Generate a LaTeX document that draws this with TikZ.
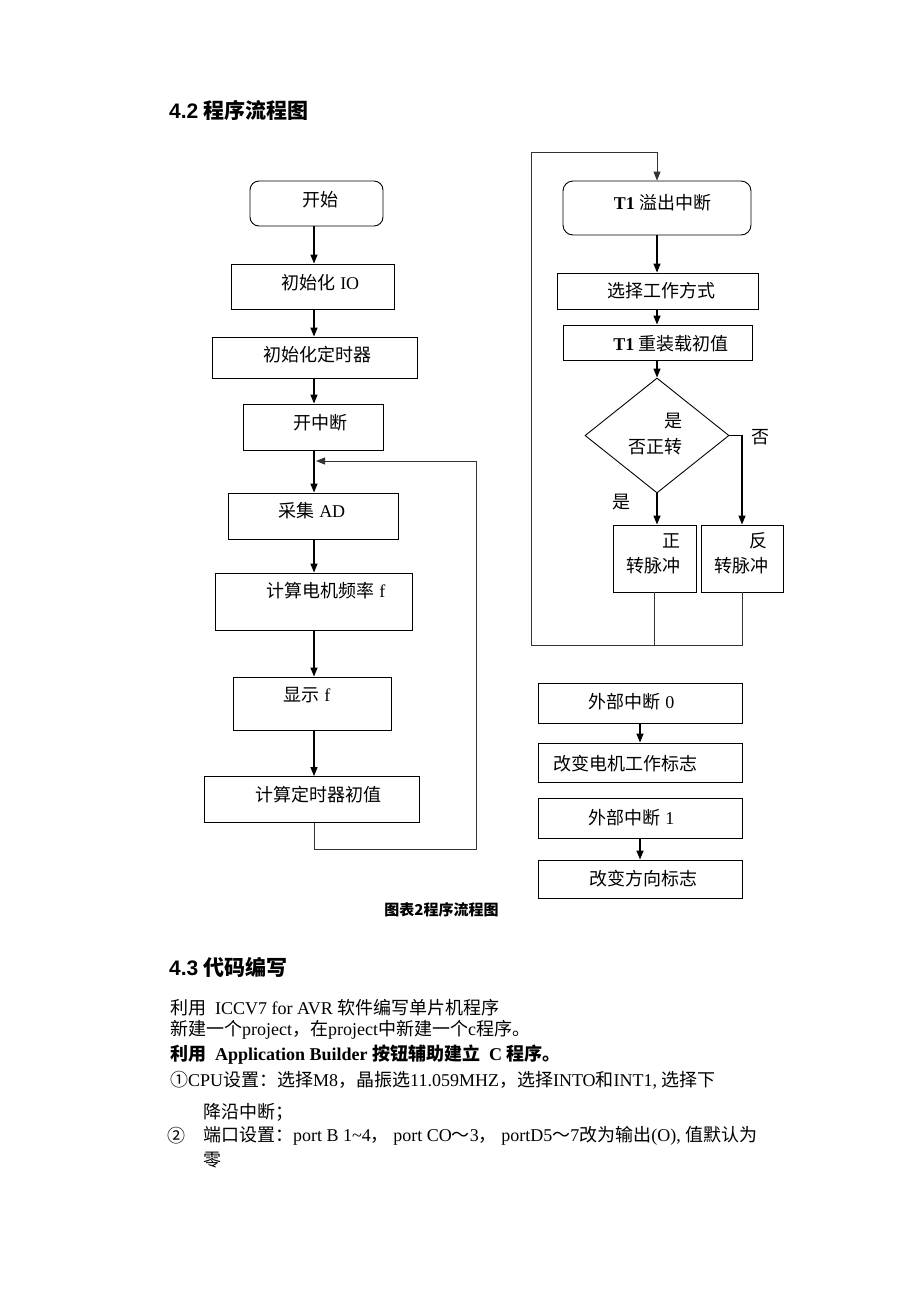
\documentclass[tikz,border=0pt]{standalone}
\usepackage{fontspec}
\setmainfont{Liberation Serif}
\newfontfamily\cjk{Noto Sans CJK SC}
\newfontfamily\hei{Liberation Sans}
\newcommand{\zh}[1]{{\cjk #1}}
\usetikzlibrary{arrows.meta,shapes.geometric}
\begin{document}
\begin{tikzpicture}[x=1pt,y=-1pt,
  box/.style={draw, line width=0.9pt, inner sep=0pt},
  rbox/.style={box, rounded corners=9pt},
  arr/.style={line width=1.3pt, -{Triangle[length=9pt,width=7pt]}},
  ln/.style={line width=1pt, draw=black!80},
  lnarr/.style={ln, -{Triangle[length=9pt,width=7pt]}},
  lbl/.style={font=\fontsize{18}{22}\selectfont, inner sep=0pt},
  body/.style={font=\fontsize{18}{22}\selectfont, inner sep=0pt, anchor=west},
  head/.style={font=\fontsize{21}{25}\selectfont\bfseries, inner sep=0pt, anchor=west},
  captxt/.style={font=\fontsize{15}{18}\selectfont\bfseries, inner sep=0pt}
]
\useasboundingbox[fill=white] (0,0) rectangle (920,1302);

% ---------- headings ----------
\node[head] (h42) at (169,110) {{\hei 4.2} \zh{程序流程图}};

% ---------- left flowchart ----------
\coordinate (ax) at (314,0);
\node[rbox, minimum width=133pt, minimum height=45pt] (start) at (316.5,203.5) {};
\node[lbl] (tstart) at (320,200) {\zh{开始}};
\node[box, minimum width=163pt, minimum height=45pt] (io) at (312.5,286.5) {};
\node[lbl] (tio) at (320.5,283) {\zh{初始化} IO};
\node[box, minimum width=205pt, minimum height=41pt] (tmr) at (314.5,357.5) {};
\node[lbl] (ttmr) at (317,355) {\zh{初始化定时器}};
\node[box, minimum width=140pt, minimum height=46pt] (kzd) at (313,427) {};
\node[lbl] (tkzd) at (320.5,423) {\zh{开中断}};
\node[box, minimum width=170pt, minimum height=46pt] (ad) at (313,516) {};
\node[lbl] (tad) at (312,511) {\zh{采集} AD};
\node[box, minimum width=197pt, minimum height=57pt] (freq) at (313.5,601.5) {};
\node[lbl] (tfreq) at (326,591) {\zh{计算电机频率} f};
\node[box, minimum width=158pt, minimum height=53pt] (show) at (312,703.5) {};
\node[lbl] (tshow) at (307,695) {\zh{显示} f};
\node[box, minimum width=215pt, minimum height=46pt] (calc) at (311.5,799.5) {};
\node[lbl] (tcalc) at (318,795) {\zh{计算定时器初值}};

\draw[arr] (start.south -| ax) -- (io.north -| ax);
\draw[arr] (io.south -| ax) -- (tmr.north -| ax);
\draw[arr] (tmr.south -| ax) -- (kzd.north -| ax);
\draw[arr] (kzd.south -| ax) -- (ad.north -| ax);
\draw[arr] (ad.south -| ax) -- (freq.north -| ax);
\draw[arr] (freq.south -| ax) -- (show.north -| ax);
\draw[arr] (show.south -| ax) -- (calc.north -| ax);

\coordinate (fbR) at (476,849);
\coordinate (merge) at (316,461);
\draw[lnarr] (calc.south -| ax) |- (fbR) |- (merge);

\node[captxt] (caption) at (441.5,909.5) {\zh{图表2程序流程图}};

% ---------- right flowchart ----------
\node[rbox, rounded corners=10pt, minimum width=188pt, minimum height=54pt] (t1) at (657,208) {};
\node[lbl] (tt1) at (662.5,202.5) {\textbf{T1} \zh{溢出中断}};
\node[box, minimum width=201pt, minimum height=36pt] (sel) at (657.5,291) {};
\node[lbl] (tsel) at (661.5,291) {\zh{选择工作方式}};
\node[box, minimum width=189pt, minimum height=35pt] (rel) at (657.5,342.5) {};
\node[lbl] (trel) at (671,344) {\textbf{T1} \zh{重装载初值}};
\node[draw, line width=0.9pt, diamond, inner sep=0pt, minimum width=144pt, minimum height=115pt] (dia) at (657,435.5) {};
\node[lbl] (tdia1) at (673.5,421.5) {\zh{是}};
\node[lbl] (tdia2) at (655,446.5) {\zh{否正转}};
\node[box, minimum width=83pt, minimum height=67pt] (pos) at (654.5,558.5) {};
\node[lbl] (tpos1) at (671.5,541) {\zh{正}};
\node[lbl] (tpos2) at (653,566) {\zh{转脉冲}};
\node[box, minimum width=82pt, minimum height=67pt] (neg) at (742,558.5) {};
\node[lbl] (tneg1) at (758.5,541) {\zh{反}};
\node[lbl] (tneg2) at (741.5,566) {\zh{转脉冲}};
\node[lbl] (tno) at (760,437) {\zh{否}};
\node[lbl] (tyes) at (621,502) {\zh{是}};

\draw[arr] (t1.south) -- (t1.south |- sel.north);
\draw[arr] (sel.south -| t1.south) -- (rel.north -| t1.south);
\draw[arr] (rel.south -| t1.south) -- (dia.north);
\draw[arr] (dia.east) -| (neg.north);
\draw[arr] (dia.south) -- (dia.south |- pos.north);

\coordinate (loopBL) at (531,645);
\coordinate (loopTL) at (531,152);
\draw[ln] (pos.south) -- (pos.south |- loopBL);
\draw[lnarr] (neg.south) |- (loopBL) -- (loopTL) -| (t1.north);

% ---------- external interrupts ----------
\node[box, minimum width=204pt, minimum height=40pt] (e0) at (640,703) {};
\node[lbl] (te0) at (631.5,701.5) {\zh{外部中断} 0};
\node[box, minimum width=204pt, minimum height=39pt] (c0) at (640,762.5) {};
\node[lbl] (tc0) at (625,763.5) {\zh{改变电机工作标志}};
\node[box, minimum width=204pt, minimum height=40pt] (e1) at (640,818) {};
\node[lbl] (te1) at (631.5,817.5) {\zh{外部中断} 1};
\node[box, minimum width=204pt, minimum height=38pt] (c1) at (640,879) {};
\node[lbl] (tc1) at (643,878.5) {\zh{改变方向标志}};
\draw[arr] (e0.south) -- (c0.north);
\draw[arr] (e1.south) -- (c1.north);

% ---------- section 4.3 ----------
\node[head] (h43) at (169,967) {{\hei 4.3} \zh{代码编写}};
\node[body] (l1) at (170,1008) {\zh{利用}\hspace{0.5em}ICCV7 for AVR \zh{软件编写单片机程序}};
\node[body] (l2) at (170,1030) {\zh{新建一个}project\zh{，在}project\zh{中新建一个}c\zh{程序。}};
\node[body] (l3) at (170,1055) {\bfseries\zh{利用}\hspace{0.5em}Application Builder \zh{按钮辅助建立}\hspace{0.5em}C \zh{程序。}};
\node[body] (l4) at (170,1080) {\zh{①}CPU\zh{设置：选择}M8\zh{，晶振选}11.059MHZ\zh{，选择}INTO\zh{和}INT1, \zh{选择下}};
\node[body] (l5) at (203,1112) {\zh{降沿中断；}};
\node[body] (l6n) at (167,1136) {\zh{②}};
\node[body] (l6) at (203,1136) {\zh{端口设置：}port B 1\textasciitilde4\zh{，} port CO\zh{〜}3\zh{，} portD5\zh{〜}7\zh{改为输出}(O), \zh{值默认为}};
\node[body] (l7) at (203,1160) {\zh{零}};
\end{tikzpicture}
\end{document}
